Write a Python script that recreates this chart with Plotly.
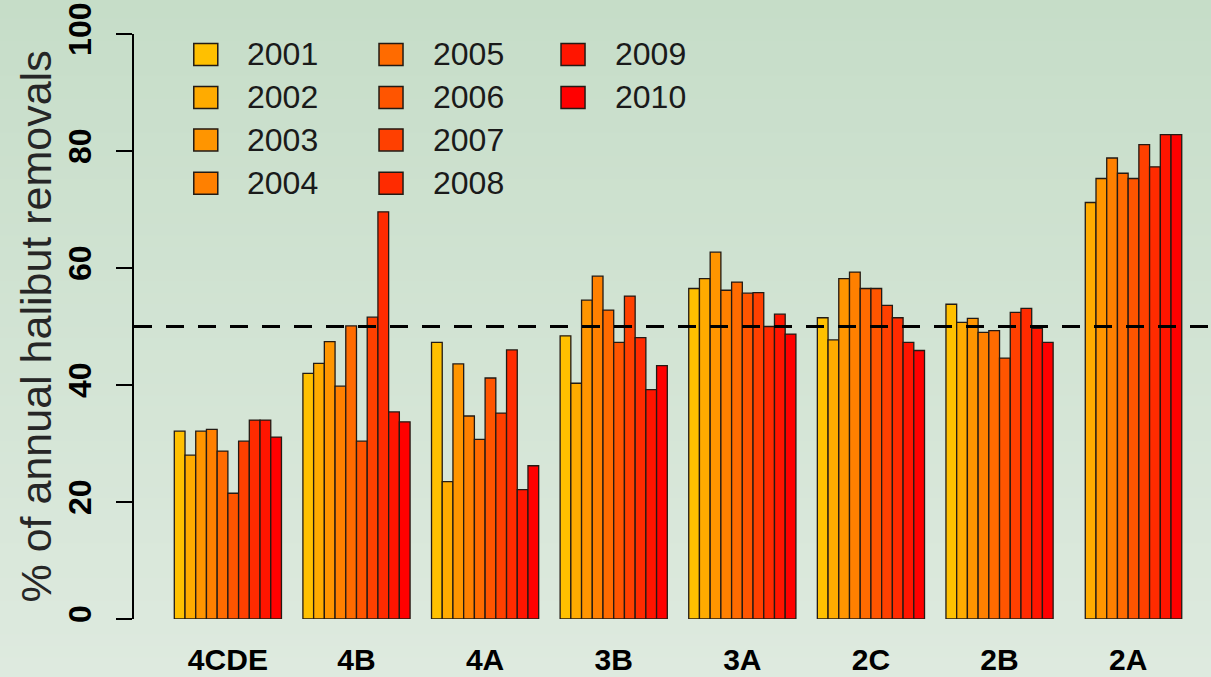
import plotly.graph_objects as go

# ---- data ----
REGIONS = ["4CDE", "4B", "4A", "3B", "3A", "2C", "2B", "2A"]
YEARS = ["2001", "2002", "2003", "2004", "2005", "2006", "2007", "2008", "2009", "2010"]

v_4CDE = [32.1, 28.0, 32.1, 32.4, 28.7, 21.5, 30.4, 34.0, 34.0, 31.1]
v_4B = [42.0, 43.7, 47.4, 39.8, 50.1, 30.4, 51.6, 69.6, 35.4, 33.7]
v_4A = [47.3, 23.5, 43.6, 34.7, 30.7, 41.2, 35.2, 46.0, 22.1, 26.2]
v_3B = [48.4, 40.3, 54.5, 58.6, 52.8, 47.3, 55.2, 48.1, 39.2, 43.3]
v_3A = [56.5, 58.2, 62.7, 56.2, 57.6, 55.7, 55.8, 50.0, 52.1, 48.7]
v_2C = [51.5, 47.7, 58.2, 59.3, 56.5, 56.5, 53.6, 51.5, 47.3, 45.9]
v_2B = [53.8, 50.7, 51.4, 49.0, 49.3, 44.6, 52.4, 53.1, 49.7, 47.3]
v_2A = [None, 71.2, 75.3, 78.8, 76.2, 75.3, 81.1, 77.3, 82.8, 82.8]

REFERENCE_LINE = 50
Y_TICKS = [0, 20, 40, 60, 80, 100]

COLORS = ["#FFC000", "#FFAB00", "#FF9500", "#FF8000", "#FF6B00",
          "#FF5500", "#FF4000", "#FF2B00", "#FF1500", "#FF0000"]

values_by_region = [v_4CDE, v_4B, v_4A, v_3B, v_3A, v_2C, v_2B, v_2A]

# ---- layout helpers (R barplot, beside=TRUE, space=c(0,2)) ----
n_years = len(YEARS)
group_period = n_years + 2
FONT = "Liberation Sans, Arial, sans-serif"

fig = go.Figure()
for j, year in enumerate(YEARS):
    xs = [g * group_period + 2 + j + 0.5 for g in range(len(REGIONS))]
    ys = [vals[j] for vals in values_by_region]
    fig.add_trace(go.Bar(
        x=xs, y=ys, width=1.0, name=year,
        marker=dict(color=COLORS[j], line=dict(color="#231a14", width=1.3)),
        showlegend=False,
    ))

# background gradient (paper coordinates cover the whole image)
top_rgb = (198, 221, 200)
bot_rgb = (222, 234, 223)
n_strips = 60
y_lo, y_hi = -0.105, 1.065
for i in range(n_strips):
    t = i / (n_strips - 1)
    c = tuple(round(bot_rgb[k] + (top_rgb[k] - bot_rgb[k]) * t) for k in range(3))
    y0 = y_lo + (y_hi - y_lo) * i / n_strips
    y1 = y_lo + (y_hi - y_lo) * (i + 1) / n_strips + 0.002
    fig.add_shape(type="rect", xref="paper", yref="paper", x0=-0.2, x1=1.05,
                  y0=y0, y1=y1, fillcolor="rgb(%d,%d,%d)" % c,
                  line=dict(width=0), layer="below")

# dashed reference line
fig.add_shape(type="line", xref="paper", yref="y", x0=0, x1=1,
              y0=REFERENCE_LINE, y1=REFERENCE_LINE,
              line=dict(color="black", width=3, dash="18px,14px"), layer="above")

# manual legend (3 columns x 4 rows, column-major)
col_x = [0.0555, 0.2275, 0.3965]   # paper x of square left edges
row_y = [0.965, 0.8915, 0.819, 0.745]  # paper y of row centres
sq_w, sq_h = 24 / 1077, 22 / 585
for j, year in enumerate(YEARS):
    c, r = divmod(j, 4)
    x0 = col_x[c]
    yc = row_y[r]
    fig.add_shape(type="rect", xref="paper", yref="paper",
                  x0=x0, x1=x0 + sq_w, y0=yc - sq_h / 2, y1=yc + sq_h / 2,
                  fillcolor=COLORS[j], line=dict(color="#231a14", width=1.5),
                  layer="above")
    fig.add_annotation(xref="paper", yref="paper", x=x0 + 0.048, y=yc,
                       text=year, showarrow=False, xanchor="left", yanchor="middle",
                       font=dict(family=FONT, size=32, color="#1a1a1a"))

# y-axis title placed as a rotated annotation (centre near x = 35 px)
fig.add_annotation(xref="paper", yref="paper", x=(35 - 134) / 1077, y=0.5,
                   text="% of annual halibut removals", showarrow=False,
                   textangle=-90, xanchor="center", yanchor="middle",
                   font=dict(family=FONT, size=43, color="#262626"))

group_centers = [g * group_period + 2 + n_years / 2 for g in range(len(REGIONS))]

fig.update_layout(
    width=1211, height=677,
    margin=dict(l=134, r=0, t=34, b=58),
    paper_bgcolor="rgb(210,228,212)",
    plot_bgcolor="rgba(0,0,0,0)",
    barmode="overlay",
    showlegend=False,
    xaxis=dict(
        range=[-1.76, 98.73], showline=False, showgrid=False, zeroline=False,
        tickmode="array", tickvals=group_centers, ticktext=REGIONS, ticks="",
        tickfont=dict(family=FONT, size=30, color="black", weight="bold"),
        ticklabelstandoff=20,
    ),
    yaxis=dict(
        range=[0, 100], showline=True, linecolor="black", linewidth=2,
        showgrid=False, zeroline=False, tickmode="array", tickvals=Y_TICKS,
        ticks="outside", ticklen=16, tickwidth=2, tickcolor="black",
        tickangle=-90,
        tickfont=dict(family=FONT, size=32, color="black", weight="bold"),
        ticklabelstandoff=12,
    ),
)

fig.write_html(
    "out.html",
    config={"displayModeBar": False},
    post_script="document.body.style.margin='0';document.body.style.overflow='hidden';",
)
